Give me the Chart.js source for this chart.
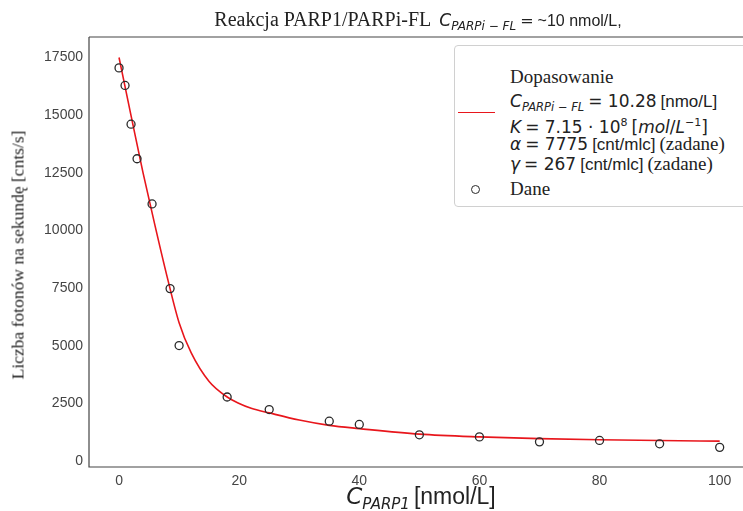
<!DOCTYPE html>
<html><head><meta charset="utf-8">
<script src="https://cdn.jsdelivr.net/npm/chart.js@4"></script>
<style>
body{margin:0;background:#fff;overflow:hidden;}
#wrap{position:relative;width:743px;height:511px;overflow:hidden;background:#fff;}
canvas{position:absolute;left:0;top:0;}
.ov{position:absolute;white-space:nowrap;color:#222;}
.serif{font-family:"Liberation Serif",serif;}
.m{font-family:"DejaVu Sans",sans-serif;}
.s{font-family:"Liberation Sans",Arial,sans-serif;}
.it{font-style:italic;}
.row{position:absolute;left:510px;height:22px;line-height:22px;white-space:nowrap;color:#222;}
</style></head>
<body><div id="wrap"><canvas id="c" width="743" height="511"></canvas>

<div class="ov" style="left:418px;top:7px;transform:translateX(-50%);line-height:24px;">
<span class="serif" style="font-size:20px">Reakcja PARP1/PARPi-FL</span>&nbsp;&nbsp;<span class="m it" style="font-size:17px">C</span><span class="m it" style="font-size:12px;position:relative;top:4px">PARPi − FL</span> <span class="m" style="font-size:16px">=</span> <span class="s" style="font-size:16px">~10 nmol/L,</span>
</div>

<div class="ov serif" style="left:18px;top:255px;transform:translate(-50%,-50%) rotate(-90deg);font-size:17.5px;">Liczba fotonów na sekundę [cnts/s]</div>

<div class="ov" style="left:421px;top:497px;transform:translate(-50%,-50%);line-height:28px;">
<span class="m it" style="font-size:23px">C</span><span class="m it" style="font-size:15px;position:relative;top:5px">PARP1</span> <span class="s" style="font-size:23px">[nmol/L]</span>
</div>

<div style="position:absolute;left:454px;top:45px;width:300px;height:160px;border:1px solid #d0d0d0;border-radius:4px;background:#fff;"></div>
<div style="position:absolute;left:458px;top:112px;width:37px;height:0;border-top:1.6px solid #e8161c;"></div>
<div style="position:absolute;left:471px;top:185px;width:7px;height:7px;border:1.3px solid #2a2a2a;border-radius:50%;"></div>

<div class="row serif" style="top:66px;font-size:19px;">Dopasowanie</div>
<div class="row" style="top:90px;"><span class="m it" style="font-size:17px">C</span><span class="m it" style="font-size:11.5px;position:relative;top:4px">PARPi − FL</span> <span class="m" style="font-size:17px">= 10.28</span> <span class="s" style="font-size:17px">[nmo/L]</span></div>
<div class="row" style="top:112px;"><span class="m it" style="font-size:17px">K</span> <span class="m" style="font-size:17px">= 7.15 · 10<sup style="font-size:11px;vertical-align:7px">8</sup></span> <span class="m" style="font-size:17px">[<i>mol</i>/<i>L</i><sup style="font-size:11px;vertical-align:7px">−1</sup>]</span></div>
<div class="row" style="top:133px;"><span class="m it" style="font-size:17px">α</span> <span class="m" style="font-size:17px">= 7775</span> <span class="s" style="font-size:17px">[cnt/mlc]</span> <span class="serif" style="font-size:19px">(zadane)</span></div>
<div class="row" style="top:153px;"><span class="m it" style="font-size:17px">γ</span> <span class="m" style="font-size:17px">= 267</span> <span class="s" style="font-size:17px">[cnt/mlc]</span> <span class="serif" style="font-size:19px">(zadane)</span></div>
<div class="row serif" style="top:178px;font-size:19px;">Dane</div>
</div>

<script>
const xData = [0, 1, 2, 3, 5.5, 8.5, 10, 18, 25, 35, 40, 50, 60, 70, 80, 90, 100];
const yData = [17050, 16290, 14610, 13110, 11150, 7480, 5010, 2780, 2235, 1730, 1590, 1140, 1050, 835, 895, 750, 595];
const fitX = [0, 2, 4, 6, 8, 10, 12, 15, 18, 20, 22, 25, 30, 35, 40, 50, 60, 70, 80, 90, 100];
const fitY = [17500, 14980, 12500, 10200, 8000, 6000, 4700, 3450, 2780, 2500, 2290, 2090, 1780, 1550, 1410, 1170, 1050, 975, 925, 890, 864];
const xTicks = [0, 20, 40, 60, 80, 100];
const yTicks = [0, 2500, 5000, 7500, 10000, 12500, 15000, 17500];

const frame = {
  id: 'frame',
  afterDraw(c) {
    const {ctx, chartArea: a} = c;
    ctx.save();
    ctx.strokeStyle = '#444';
    ctx.lineWidth = 1.2;
    ctx.beginPath();
    ctx.moveTo(a.left, a.top);
    ctx.lineTo(c.width, a.top);
    ctx.moveTo(a.left, a.top);
    ctx.lineTo(a.left, a.bottom);
    ctx.lineTo(c.width, a.bottom);
    ctx.stroke();
    ctx.restore();
  }
};

const tickFont = {family: 'Liberation Sans', size: 14};

new Chart(document.getElementById('c'), {
  type: 'scatter',
  data: {
    datasets: [
      {
        label: 'Dopasowanie',
        data: fitX.map((x, i) => ({x: x, y: fitY[i]})),
        showLine: true,
        borderColor: '#e8161c',
        borderWidth: 1.6,
        pointRadius: 0,
        cubicInterpolationMode: 'monotone',
        fill: false,
        order: 2
      },
      {
        label: 'Dane',
        data: xData.map((x, i) => ({x: x, y: yData[i]})),
        showLine: false,
        pointRadius: 4,
        pointBorderWidth: 1.3,
        borderColor: '#2a2a2a',
        backgroundColor: 'rgba(0,0,0,0)',
        order: 1
      }
    ]
  },
  options: {
    responsive: false,
    animation: false,
    devicePixelRatio: 1,
    layout: {padding: {top: 37, left: 0, right: 0, bottom: 0}},
    plugins: {legend: {display: false}, tooltip: {enabled: false}, title: {display: false}},
    scales: {
      x: {
        type: 'linear', min: -5, max: 103,
        grid: {display: false, drawTicks: false},
        border: {display: false},
        ticks: {padding: 6, color: '#444', font: tickFont, callback: v => String(v)},
        afterBuildTicks: s => { s.ticks = xTicks.map(v => ({value: v})); },
        afterFit: s => { s.height = 44; }
      },
      y: {
        type: 'linear', min: -256, max: 18390,
        grid: {display: false, drawTicks: false},
        border: {display: false},
        ticks: {padding: 6, color: '#444', font: tickFont, callback: v => String(v)},
        afterBuildTicks: s => { s.ticks = yTicks.map(v => ({value: v})); },
        afterFit: s => { s.width = 89; }
      }
    }
  },
  plugins: [frame]
});
</script>
</body></html>
